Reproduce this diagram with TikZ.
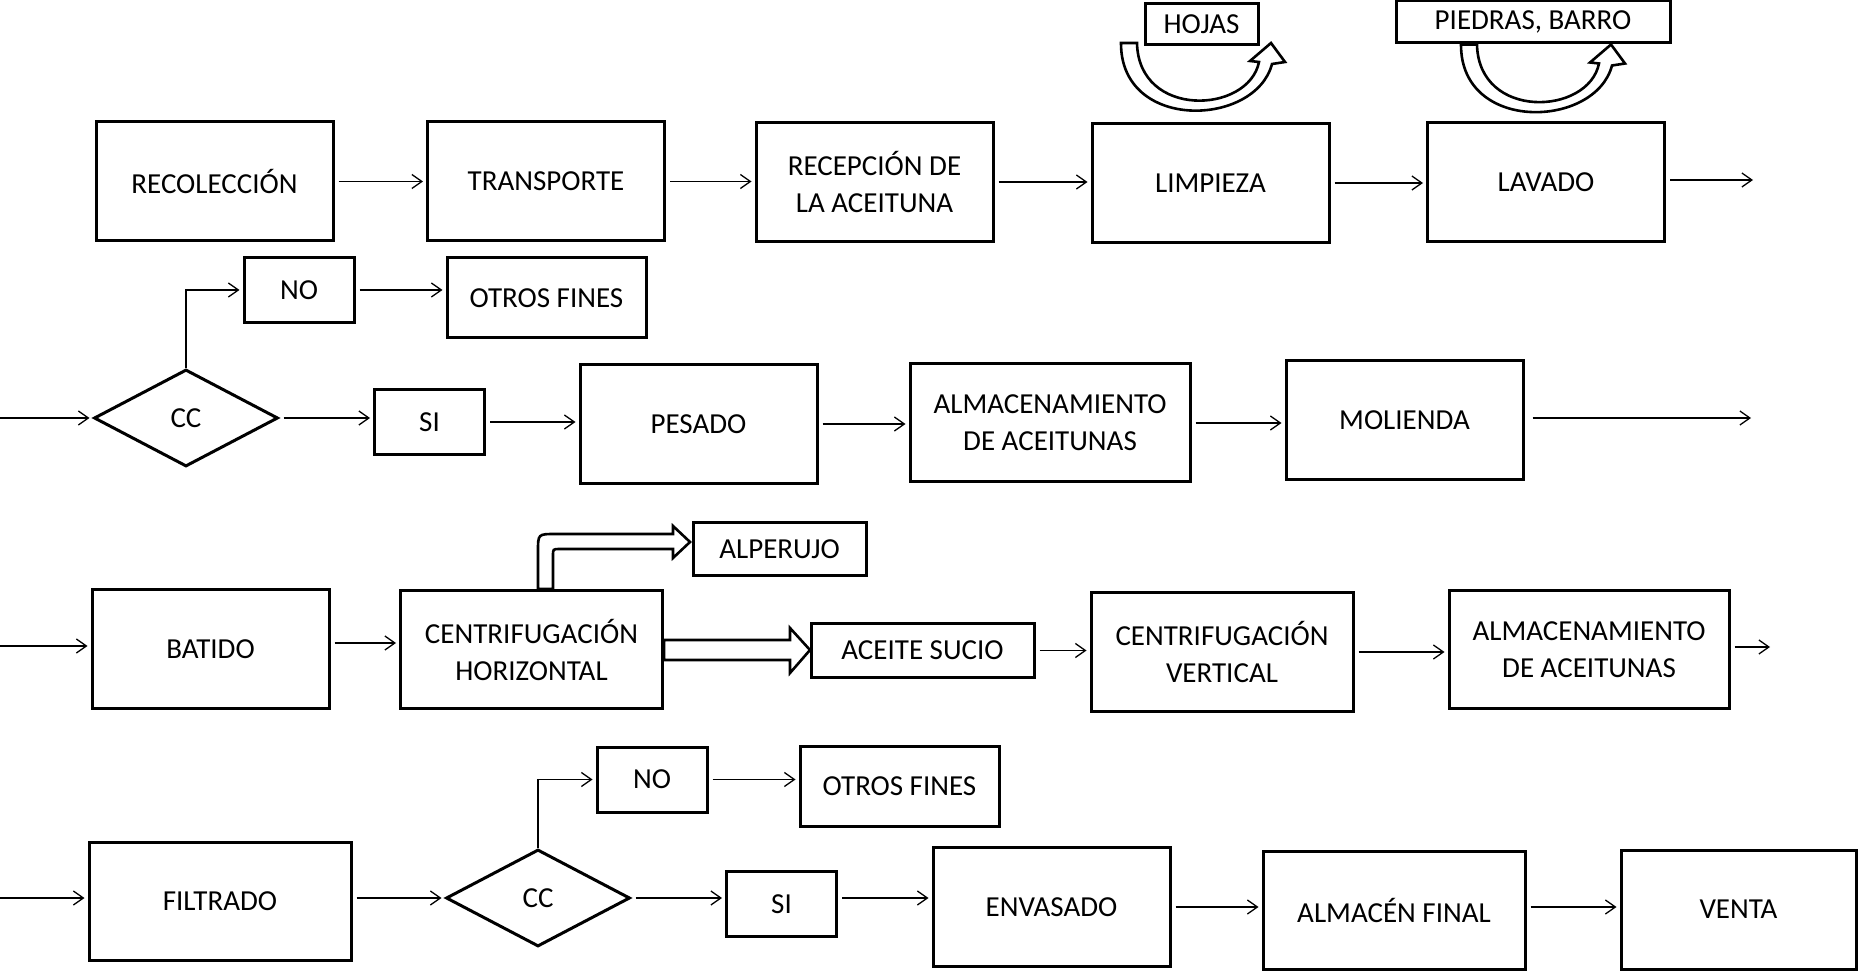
\documentclass[tikz,border=0pt]{standalone}
\usepackage{fontspec}
\setmainfont{Carlito}
\usepackage{tikz}
\usetikzlibrary{arrows.meta,shapes.geometric,calc}

\tikzset{
  box/.style={draw, line width=1.5pt, align=center, inner sep=2pt, font=\fontsize{14.5}{18.5}\selectfont},
  big/.style={minimum width=118.5pt, minimum height=59.5pt},
  wide/.style={minimum width=131pt, minimum height=59pt},
  xwide/.style={minimum width=140pt, minimum height=59pt},
  small/.style={minimum width=55pt, minimum height=32.5pt},
  mid/.style={minimum width=99.5pt, minimum height=40pt},
  cc/.style={diamond, draw, line width=1.5pt, inner sep=0pt, minimum width=92pt, minimum height=48.5pt, font=\fontsize{14.5}{18.5}\selectfont},
  flow/.style={line width=0.65pt, -{Straight Barb[length=5pt,width=7pt]}, shorten <=2pt, shorten >=1.5pt},
  hollow/.style={draw, line width=1.3pt, fill=white, line join=miter},
  curvarrow/.pic={
    \draw[hollow] (-89.5,-79) -- (-73.5,-79) .. controls (-72,-3) and (38,-8) .. (48.5,-60)
      -- (39.5,-61) -- (60.5,-79) -- (74.5,-60) -- (61.5,-58)
      .. controls (45,5) and (-90,10) .. (-89.5,-79) -- cycle;
  }
}

\begin{document}
\begin{tikzpicture}[x=0.5pt,y=-0.5pt]
\useasboundingbox (0,0) rectangle (1858,972);

% fila 1
\node[box,big] (reco) at (214.5,181.5) {RECOLECCIÓN};
\node[box,big] (trans) at (546,181.5) {TRANSPORTE};
\node[box,big] (recep) at (874.5,182) {RECEPCIÓN DE\\LA ACEITUNA};
\node[box,big] (limp) at (1210.5,183) {LIMPIEZA};
\node[box,big] (lav) at (1546,182.5) {LAVADO};
\node[box,minimum width=56.5pt,minimum height=20.5pt] (hojas) at (1201.5,24.5) {HOJAS};
\node[box,minimum width=137pt,minimum height=21pt] (piedras) at (1533,22) {PIEDRAS, BARRO};
\coordinate (out1) at (1756,180);

\draw[flow] (reco.east) -- (reco.east -| trans.west);
\draw[flow] (trans.east) -- (trans.east -| recep.west);
\draw[flow] (recep.east) -- (recep.east -| limp.west);
\draw[flow] (limp.east) -- (limp.east -| lav.west);
\draw[flow] (lav.east |- out1) -- (out1);
\pic at (limp.north) {curvarrow};
\pic at ($(lav.north)+(4.5,2)$) {curvarrow};

% fila 2
\coordinate (in2) at (0,418);
\node[cc] (cc1) at (186,418) {CC};
\node[box,small] (no1) at (299,290) {NO};
\node[box,mid] (otros1) at (546.5,298) {OTROS FINES};
\node[box,small] (si1) at (429.5,422) {SI};
\node[box,big] (pesado) at (698.5,424) {PESADO};
\node[box,xwide] (alm1) at (1050,423) {ALMACENAMIENTO\\DE ACEITUNAS};
\node[box,big] (mol) at (1404.5,420.5) {MOLIENDA};
\coordinate (out2) at (1754,418);

\draw[flow, shorten <=0pt] (in2) -- (cc1.west);
\draw[flow, shorten <=0pt] (cc1.north) |- (no1.west);
\draw[flow] (no1.east) -- (no1.east -| otros1.west);
\draw[flow] (cc1.east) -- (cc1.east -| si1.west);
\draw[flow] (si1.east) -- (si1.east -| pesado.west);
\draw[flow] (pesado.east) -- (pesado.east -| alm1.west);
\draw[flow] (alm1.east) -- (alm1.east -| mol.west);
\draw[flow, shorten <=4pt] (mol.east |- out2) -- (out2);

% fila 3
\coordinate (in3) at (0,646);
\node[box,big] (batido) at (210.5,649) {BATIDO};
\node[box,wide] (ch) at (531.5,649.5) {CENTRIFUGACIÓN\\HORIZONTAL};
\node[box,minimum width=86.5pt,minimum height=26.5pt] (alperujo) at (779.5,549.5) {ALPERUJO};
\node[box,minimum width=111.5pt,minimum height=26.5pt] (aceite) at (922.5,650.5) {ACEITE SUCIO};
\node[box,wide] (cv) at (1222,652) {CENTRIFUGACIÓN\\VERTICAL};
\node[box,xwide] (alm2) at (1589,649.5) {ALMACENAMIENTO\\DE ACEITUNAS};
\coordinate (out3) at (1773,647);

\draw[flow, shorten <=0pt] (in3) -- (in3 -| batido.west);
\draw[flow] (batido.east |- 0,643) -- (ch.west |- 0,643);
\draw[flow] (aceite.east) -- (aceite.east -| cv.west);
\draw[flow] (cv.east) -- (cv.east -| alm2.west);
\draw[flow] (alm2.east |- out3) -- (out3);
\begin{scope}[shift={(ch.north)}]
\draw[hollow] (6.5,0) -- (6.5,-38) .. controls (6.5,-55) .. (24,-55) -- (141.5,-55) -- (141.5,-63)
  -- (158.5,-47) -- (141.5,-31) -- (141.5,-40) -- (28,-40) .. controls (21.5,-40) .. (21.5,-33)
  -- (21.5,0) -- cycle;
\end{scope}
\begin{scope}[shift={(ch.east)}]
\draw[hollow] (0,-9.5) -- (126,-9.5) -- (126,-21.5) -- (146,0.5) -- (126,23.5) -- (126,10.5)
  -- (0,10.5) -- cycle;
\end{scope}

% fila 4
\coordinate (in4) at (0,898);
\node[box,wide] (filtrado) at (220,901.5) {FILTRADO};
\node[cc] (cc2) at (538,898) {CC};
\node[box,small] (no2) at (652,779.5) {NO};
\node[box,mid] (otros2) at (899.5,786.5) {OTROS FINES};
\node[box,small] (si2) at (781.5,904) {SI};
\node[box,big] (env) at (1051.5,907) {ENVASADO};
\node[box,wide] (almf) at (1394,910) {ALMACÉN FINAL};
\node[box,minimum width=117.5pt,minimum height=59.5pt] (venta) at (1738.5,909.5) {VENTA};

\draw[flow, shorten <=0pt] (in4) -- (in4 -| filtrado.west);
\draw[flow] (cc2.west -| filtrado.east) -- (cc2.west);
\draw[flow, shorten <=0pt] (cc2.north) |- (no2.west);
\draw[flow] (no2.east) -- (no2.east -| otros2.west);
\draw[flow] (cc2.east) -- (cc2.east -| si2.west);
\draw[flow] (cc2.east -| si2.east) -- (cc2.east -| env.west);
\draw[flow] (env.east) -- (env.east -| almf.west);
\draw[flow] (almf.east |- env.east) -- (env.east -| venta.west);
\end{tikzpicture}
\end{document}
